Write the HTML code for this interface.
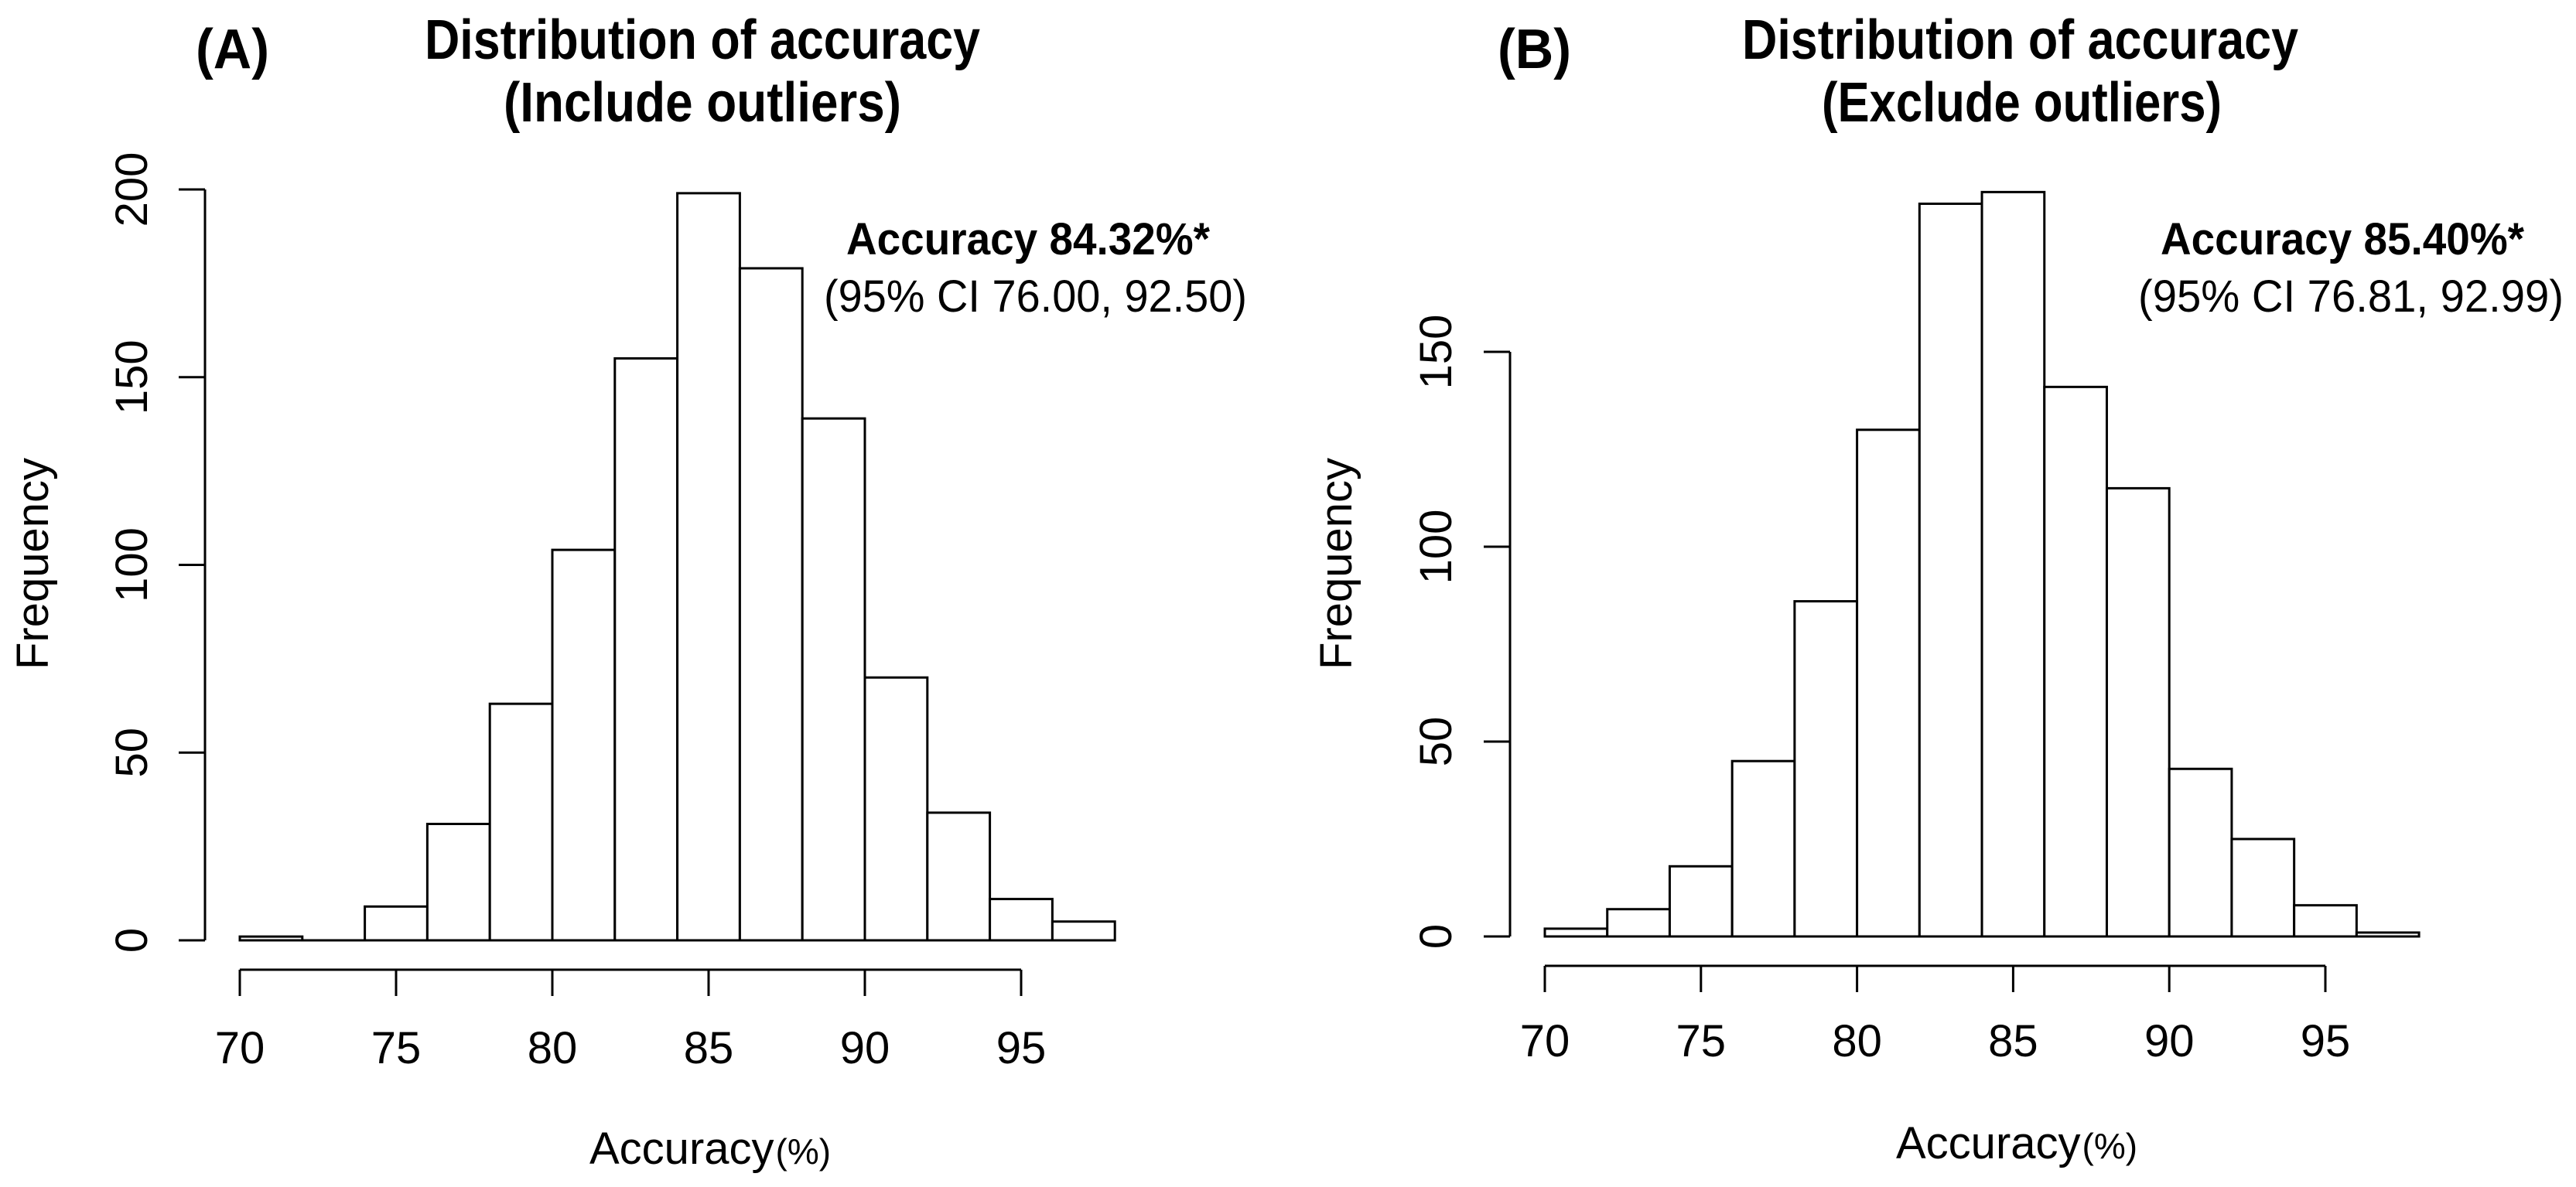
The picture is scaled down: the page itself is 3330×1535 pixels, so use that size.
<!DOCTYPE html>
<html><head><meta charset="utf-8"><style>
html,body{margin:0;padding:0;background:#fff;}
svg{display:block;font-family:"Liberation Sans",sans-serif;}
.t{font-weight:bold;font-size:72px;}
</style></head><body>
<svg id="svg" width="3330" height="1535" viewBox="0 0 3330 1535">
<g>
<text x="253" y="88" class="t" textLength="95" lengthAdjust="spacingAndGlyphs">(A)</text>
<text x="549" y="76" class="t" textLength="718" lengthAdjust="spacingAndGlyphs">Distribution of accuracy</text>
<text x="651" y="157" class="t" textLength="514" lengthAdjust="spacingAndGlyphs">(Include outliers)</text>
<text x="1094" y="329" font-size="58" font-weight="bold" textLength="470" lengthAdjust="spacingAndGlyphs">Accuracy 84.32%*</text>
<text x="1065" y="403" font-size="58" textLength="547" lengthAdjust="spacingAndGlyphs">(95% CI 76.00, 92.50)</text>
</g>
<g>
<text x="1936" y="88" class="t" textLength="95" lengthAdjust="spacingAndGlyphs">(B)</text>
<text x="2252" y="76" class="t" textLength="719" lengthAdjust="spacingAndGlyphs">Distribution of accuracy</text>
<text x="2355" y="157" class="t" textLength="517" lengthAdjust="spacingAndGlyphs">(Exclude outliers)</text>
<text x="2793" y="329" font-size="58" font-weight="bold" textLength="470" lengthAdjust="spacingAndGlyphs">Accuracy 85.40%*</text>
<text x="2764" y="403" font-size="58" textLength="550" lengthAdjust="spacingAndGlyphs">(95% CI 76.81, 92.99)</text>
</g>
</svg>
<script>
const binStarts = [70,72,74,76,78,80,82,84,86,88,90,92,94,96];
const binWidth = 2;
const countsA = [1,0,9,31,63,104,155,199,179,139,70,34,11,5];
const countsB = [2,7,18,45,86,130,188,191,141,115,43,25,8,1];
const xTicks = [70,75,80,85,90,95];
const yTicksA = [0,50,100,150,200];
const yTicksB = [0,50,100,150];

const NS = 'http://www.w3.org/2000/svg';
const svg = document.getElementById('svg');
function mk(tag, attrs, parent){
  const e = document.createElementNS(NS, tag);
  for (const k in attrs) e.setAttribute(k, attrs[k]);
  (parent||svg).appendChild(e);
  return e;
}
function panel(p, key, counts, yTicks){
  const sx = v => p.x0 + (v - 70) * p.kx;
  const sy = v => p.y0 - v * p.ky;
  const g = mk('g', {});
  
  
  const bars = mk('g', {stroke:'#000','stroke-width':3,fill:'#fff'}, g);
  
  
  counts.forEach((c, i) => {
    const x1 = sx(binStarts[i]), x2 = sx(binStarts[i] + binWidth);
    const r = mk('rect', {x:x1, y:sy(c), width:x2 - x1, height:Math.max(sy(0) - sy(c), 0.01)}, bars);
    
    
  });
  const xa = mk('g', {stroke:'#000','stroke-width':3}, g);
  
  
  mk('line', {x1:sx(xTicks[0]), x2:sx(xTicks[xTicks.length-1]), y1:p.ax, y2:p.ax}, xa);
  xTicks.forEach(t => {
    mk('line', {x1:sx(t), x2:sx(t), y1:p.ax, y2:p.ax + 34}, xa);
    const tx = mk('text', {x:sx(t), y:p.xlab, 'text-anchor':'middle','font-size':58, stroke:'none'}, g);
    tx.textContent = t;
    
    
  });
  const ya = mk('g', {stroke:'#000','stroke-width':3}, g);
  
  
  mk('line', {x1:p.yax, x2:p.yax, y1:sy(yTicks[0]), y2:sy(yTicks[yTicks.length-1])}, ya);
  yTicks.forEach(t => {
    mk('line', {x1:p.yax, x2:p.yax - 34, y1:sy(t), y2:sy(t)}, ya);
    const tx = mk('text', {x:0, y:0, 'text-anchor':'middle','font-size':58,
      transform:'translate(' + (p.ylabx + 20) + ',' + sy(t) + ') rotate(-90)'}, g);
    tx.textContent = t;
    
    
  });
  const yt = mk('text', {x:0, y:0, 'text-anchor':'middle','font-size':58,
    transform:'translate(' + (p.ftx + 20) + ',729) rotate(-90)'}, g);
  yt.textContent = 'Frequency';
  
  
  const xt = mk('text', {x:p.xtx, y:p.xty, 'font-size':58}, g);
  
  
  const s1 = mk('tspan', {}, xt); s1.textContent = 'Accuracy';
  const s2 = mk('tspan', {'font-size':46, dx:2}, xt); s2.textContent = '(%)';
}
panel({x0:310, kx:40.4, y0:1216, ky:4.855, ax:1254, xlab:1375, yax:265, ylabx:170, ftx:42, xtx:762, xty:1505}, 'panel-a', countsA, yTicksA);
panel({x0:1997, kx:40.36, y0:1211, ky:5.04, ax:1249, xlab:1366, yax:1952, ylabx:1856, ftx:1727, xtx:2451, xty:1498}, 'panel-b', countsB, yTicksB);
</script>
</body></html>
